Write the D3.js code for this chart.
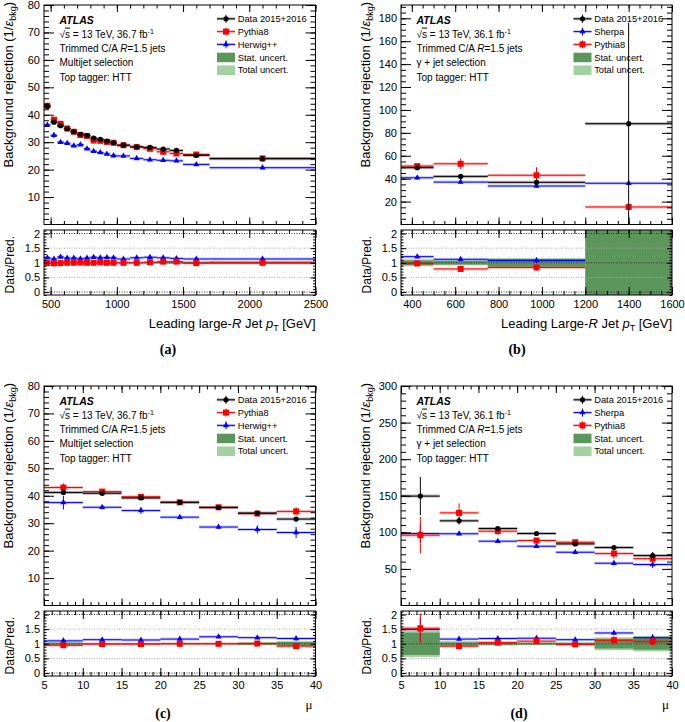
<!DOCTYPE html>
<html><head><meta charset="utf-8">
<script src="https://cdn.jsdelivr.net/npm/d3@7"></script>
<style>
body{margin:0;background:#fff;}
svg{display:block;font-family:"Liberation Sans",Arial,Helvetica,sans-serif;}
</style></head><body>
<script>
// ---------------- Panel (a): multijet, vs leading large-R jet pT ----------------
const aEdges = [450,500,550,600,650,700,750,800,850,900,950,1000,1100,1200,1300,1400,1500,1700,2500];
const aData      = [43.1,37.3,36.0,34.9,33.8,32.9,32.4,31.5,31.0,30.4,29.8,28.9,28.3,28.1,27.5,27.0,25.2,24.0];
const aDataErr   = [1.0,0.7,0.5,0.5,0.5,0.5,0.4,0.4,0.4,0.4,0.4,0.4,0.5,0.6,0.7,0.9,0.8,1.0];
const aPythia    = [43.3,38.2,36.7,35.0,33.8,32.6,32.3,30.6,30.5,30.1,29.8,28.9,28.2,27.6,26.5,25.9,25.5,24.1];
const aPythiaErr = [0.6,0.5,0.5,0.4,0.4,0.4,0.4,0.4,0.4,0.4,0.4,0.3,0.3,0.4,0.4,0.5,0.4,0.5];
const aHerwig    = [36.3,32.5,30.0,29.6,28.7,29.1,27.6,26.7,26.2,25.7,25.1,25.0,24.1,23.6,23.4,23.2,21.9,20.7];
const aHerwigErr = [0.5,1.0,0.4,0.4,0.4,0.4,0.4,0.3,0.3,0.3,0.3,0.3,0.3,0.3,0.3,0.4,0.3,0.4];
const aRatioHerwig    = [1.17,1.13,1.20,1.16,1.16,1.14,1.16,1.19,1.17,1.18,1.17,1.13,1.17,1.19,1.17,1.15,1.13,1.13];
const aRatioHerwigErr = [0.03,0.04,0.02,0.02,0.02,0.02,0.02,0.02,0.02,0.02,0.02,0.02,0.02,0.02,0.03,0.03,0.03,0.03];
const aRatioPythia    = [0.99,0.98,0.99,1.00,1.00,1.01,1.00,1.00,1.02,1.00,1.00,1.00,1.00,1.02,1.04,1.04,0.99,1.00];
const aRatioPythiaErr = [0.02,0.02,0.02,0.02,0.02,0.02,0.02,0.02,0.02,0.02,0.02,0.02,0.02,0.02,0.03,0.03,0.03,0.03];
const aStat  = [0.015,0.012,0.012,0.012,0.012,0.012,0.012,0.012,0.012,0.012,0.012,0.012,0.015,0.018,0.022,0.028,0.03,0.035];
const aTotal = [0.025,0.02,0.02,0.02,0.02,0.02,0.02,0.02,0.02,0.02,0.02,0.02,0.024,0.028,0.032,0.04,0.045,0.05];
const aXTicks = [500,1000,1500,2000,2500];
const aYTicks = [10,20,30,40,50,60,70,80];

// ---------------- Panel (b): gamma + jet, vs leading large-R jet pT ----------------
const bEdges = [350,500,750,1200,1600];
const bData      = [49.6,42.0,36.8,88.0];
const bDataErr   = [2.0,1.5,2.0,88.0];
const bSherpa    = [40.8,37.0,33.6,36.0];
const bSherpaErr = [1.5,1.5,1.5,1.5];
const bPythia    = [51.0,53.0,43.0,15.3];
const bPythiaErr = [2.5,4.5,7.0,1.5];
const bRatioSherpa    = [1.21,1.12,1.08,null];
const bRatioSherpaErr = [0.04,0.03,0.10,null];
const bRatioPythia    = [0.98,0.79,0.84,null];
const bRatioPythiaErr = [0.04,0.06,0.10,null];
const bStat  = [0.08,0.06,0.13,5];
const bTotal = [0.12,0.09,0.16,5];
const bXTicks = [400,600,800,1000,1200,1400,1600];
const bYTicks = [20,40,60,80,100,120,140,160,180];

// ---------------- Panel (c): multijet, vs mu ----------------
const cEdges = [5,10,15,20,25,30,35,40];
const cData      = [41.2,40.9,39.2,37.6,35.7,33.7,31.5];
const cDataErr   = [0.8,0.6,0.5,0.5,0.5,0.6,0.7];
const cPythia    = [43.0,41.5,39.6,37.6,35.8,33.5,34.3];
const cPythiaErr = [1.5,0.6,0.6,0.5,0.6,0.8,1.5];
const cHerwig    = [37.5,35.8,34.6,32.2,28.6,27.7,26.6];
const cHerwigErr = [2.5,0.8,1.2,0.6,0.6,1.5,2.0];
const cRatioHerwig    = [1.10,1.14,1.13,1.16,1.24,1.21,1.18];
const cRatioHerwigErr = [0.07,0.03,0.04,0.03,0.03,0.05,0.08];
const cRatioPythia    = [0.95,0.99,0.99,1.00,1.00,1.01,0.92];
const cRatioPythiaErr = [0.04,0.02,0.02,0.02,0.02,0.03,0.05];
const cStat  = [0.03,0.01,0.01,0.01,0.01,0.03,0.06];
const cTotal = [0.06,0.02,0.02,0.02,0.02,0.05,0.09];
const cXTicks = [5,10,15,20,25,30,35,40];
const cYTicks = [10,20,30,40,50,60,70,80];

// ---------------- Panel (d): gamma + jet, vs mu ----------------
const dEdges = [5,10,15,20,25,30,35,40];
const dData      = [149.5,115.7,105.2,98.4,84.2,79.2,68.2];
const dDataErr   = [26,5,2,1.5,2,2,5];
const dSherpa    = [98.4,98.0,87.9,81.0,72.8,57.8,56.0];
const dSherpaErr = [12,2,2,2,2,3,5];
const dPythia    = [96.1,126.6,101.6,88.8,86.5,71.0,64.0];
const dPythiaErr = [25,13,5,3,3,7,7];
const dRatioSherpa    = [1.49,1.16,1.18,1.19,1.14,1.37,1.21];
const dRatioSherpaErr = [0.40,0.05,0.04,0.04,0.04,0.06,0.12];
const dRatioPythia    = [1.53,0.92,1.04,1.09,0.98,1.12,1.08];
const dRatioPythiaErr = [0.50,0.10,0.05,0.04,0.04,0.15,0.15];
const dStat  = [0.38,0.05,0.04,0.03,0.03,0.16,0.20];
const dTotal = [0.45,0.09,0.06,0.05,0.05,0.22,0.26];
const dXTicks = [5,10,15,20,25,30,35,40];
const dYTicks = [50,100,150,200,250,300];

const ratioTicks = [0,0.5,1,1.5,2];
const ratioDomain = [-0.1,2.12];

// ---------------- styles ----------------
const STAT_COLOR = '#5c965c', TOTAL_COLOR = '#a2d2a2';
const BLACK = {color:'#000', band:'rgba(0,0,0,0.3)', marker:'circle'};
const RED   = {color:'#ff0000', band:'rgba(255,0,0,0.25)', marker:'square'};
const BLUE  = {color:'#0000ff', band:'rgba(0,0,255,0.22)', marker:'triangle'};
const FONT = '"Liberation Sans",Arial,Helvetica,sans-serif';

const svg = d3.select('body').append('svg').attr('width',685).attr('height',722);
const defs = svg.append('defs');

function marker(sel, type, color, scale) {
  scale = scale || 1;
  if (type === 'circle') {
    sel.append('circle').attr('r',2.6*scale).attr('fill',color);
  } else if (type === 'square') {
    sel.append('rect').attr('x',-3*scale).attr('y',-3*scale).attr('width',6*scale).attr('height',6*scale).attr('fill',color);
  } else {
    sel.append('path').attr('d', d3.symbol(d3.symbolTriangle, 16*scale*scale)()).attr('fill',color);
  }
}

function drawSeries(g, x, y, edges, vals, errs, st, bandW) {
  const bins = vals.map((v,i)=>({v, e:errs[i], x0:edges[i], x1:edges[i+1], xc:(edges[i]+edges[i+1])/2}))
                   .filter(d => d.v !== null && d.v !== undefined);
  const s = g.append('g');
  s.selectAll(null).data(bins).join('line')
    .attr('x1',d=>x(d.x0)).attr('x2',d=>x(d.x1)).attr('y1',d=>y(d.v)).attr('y2',d=>y(d.v))
    .attr('stroke',st.band).attr('stroke-width',bandW);
  s.selectAll(null).data(bins).join('line')
    .attr('x1',d=>x(d.x0)).attr('x2',d=>x(d.x1)).attr('y1',d=>y(d.v)).attr('y2',d=>y(d.v))
    .attr('stroke',st.color).attr('stroke-width',1);
  s.selectAll(null).data(bins).join('line')
    .attr('x1',d=>x(d.xc)).attr('x2',d=>x(d.xc)).attr('y1',d=>y(d.v-d.e)).attr('y2',d=>y(d.v+d.e))
    .attr('stroke',st.color).attr('stroke-width',1);
  s.selectAll(null).data(bins).join('g')
    .attr('transform',d=>`translate(${x(d.xc)},${y(d.v)})`)
    .each(function(){ marker(d3.select(this), st.marker, st.color); });
}

function axis(g, scale, orient, pos, values, len, labels, fmt, pad) {
  const mk = {left:d3.axisLeft, right:d3.axisRight, top:d3.axisTop, bottom:d3.axisBottom}[orient];
  const ax = mk(scale).tickValues(values).tickSizeInner(-len).tickSizeOuter(0).tickPadding(pad||4)
    .tickFormat(labels ? fmt : () => '');
  const ga = g.append('g')
    .attr('transform', (orient==='left'||orient==='right') ? `translate(${pos},0)` : `translate(0,${pos})`)
    .call(ax);
  ga.attr('font-family',FONT).attr('font-size',11);
  ga.select('.domain').remove();
  ga.selectAll('line').attr('stroke','#000').attr('stroke-width',1);
  ga.selectAll('text').attr('fill','#000');
}

function minorRange(dom, step) {
  const out = [];
  const start = Math.ceil(dom[0]/step - 1e-9);
  for (let k = start; k*step <= dom[1] + 1e-9; k++) out.push(+(k*step).toFixed(6));
  return out;
}

function panel(cfg) {
  const g = svg.append('g');
  const x  = d3.scaleLinear().domain(cfg.xDomain).range([cfg.left, cfg.right]);
  const y  = d3.scaleLinear().domain(cfg.yDomain).range([cfg.mainBottom, cfg.top]);
  const yr = d3.scaleLinear().domain(ratioDomain).range([cfg.ratioBottom, cfg.ratioTop]);
  const W = cfg.right - cfg.left;

  defs.append('clipPath').attr('id','cm'+cfg.id).append('rect')
    .attr('x',cfg.left).attr('y',cfg.top).attr('width',W).attr('height',cfg.mainBottom-cfg.top);
  defs.append('clipPath').attr('id','cr'+cfg.id).append('rect')
    .attr('x',cfg.left).attr('y',cfg.ratioTop).attr('width',W).attr('height',cfg.ratioBottom-cfg.ratioTop);

  const gm = g.append('g').attr('clip-path',`url(#cm${cfg.id})`);
  const gr = g.append('g').attr('clip-path',`url(#cr${cfg.id})`);

  // ratio uncertainty bands
  const rb = cfg.edges.slice(0,-1).map((e,i)=>({x0:e, x1:cfg.edges[i+1], s:cfg.stat[i], t:cfg.total[i]}));
  gr.selectAll(null).data(rb).join('rect')
    .attr('x',d=>x(d.x0)).attr('width',d=>x(d.x1)-x(d.x0))
    .attr('y',d=>yr(1+d.t)).attr('height',d=>yr(1-d.t)-yr(1+d.t)).attr('fill',TOTAL_COLOR);
  gr.selectAll(null).data(rb).join('rect')
    .attr('x',d=>x(d.x0)).attr('width',d=>x(d.x1)-x(d.x0))
    .attr('y',d=>yr(1+d.s)).attr('height',d=>yr(1-d.s)-yr(1+d.s)).attr('fill',STAT_COLOR);
  // ratio dotted reference lines
  gr.selectAll(null).data(ratioTicks).join('line')
    .attr('x1',cfg.left).attr('x2',cfg.right).attr('y1',d=>yr(d)).attr('y2',d=>yr(d))
    .attr('stroke',d=> (d===0.5||d===1.5) ? '#aaa' : '#333')
    .attr('stroke-width',1).attr('stroke-dasharray','1,1.5');

  // main & ratio series
  cfg.series.forEach(s => drawSeries(gm, x, y, cfg.edges, s.vals, s.errs, s.style, 3));
  cfg.ratios.forEach(s => drawSeries(gr, x, yr, cfg.edges, s.vals, s.errs, s.style, 3));

  // frames
  g.append('rect').attr('x',cfg.left).attr('y',cfg.top).attr('width',W).attr('height',cfg.mainBottom-cfg.top)
    .attr('fill','none').attr('stroke','#000').attr('stroke-width',1);
  g.append('rect').attr('x',cfg.left).attr('y',cfg.ratioTop).attr('width',W).attr('height',cfg.ratioBottom-cfg.ratioTop)
    .attr('fill','none').attr('stroke','#000').attr('stroke-width',1);

  // main axes
  const yMinor = minorRange(cfg.yDomain, cfg.yMinorStep).filter(v=>v>cfg.yDomain[0]);
  axis(g, y, 'left',  cfg.left,  cfg.yTicks, 10, true, d3.format('d'), 4);
  axis(g, y, 'left',  cfg.left,  yMinor, 5, false);
  axis(g, y, 'right', cfg.right, cfg.yTicks, 10, false);
  axis(g, y, 'right', cfg.right, yMinor, 5, false);
  const xMinor = minorRange(cfg.xDomain, cfg.xMinorStep);
  axis(g, x, 'bottom', cfg.mainBottom, cfg.xTicks, 7, false);
  axis(g, x, 'bottom', cfg.mainBottom, xMinor, 3.5, false);
  axis(g, x, 'top', cfg.top, cfg.xTicks, 7, false);
  axis(g, x, 'top', cfg.top, xMinor, 3.5, false);
  // ratio axes
  const rMinor = minorRange(ratioDomain, 0.1);
  axis(g, yr, 'left',  cfg.left,  ratioTicks, 5, true, d3.format('~g'), 4);
  axis(g, yr, 'left',  cfg.left,  rMinor, 2.5, false);
  axis(g, yr, 'right', cfg.right, ratioTicks, 5, false);
  axis(g, yr, 'right', cfg.right, rMinor, 2.5, false);
  axis(g, x, 'bottom', cfg.ratioBottom, cfg.xTicks, 8, true, d3.format('d'), 5);
  axis(g, x, 'bottom', cfg.ratioBottom, xMinor, 4, false);
  axis(g, x, 'top', cfg.ratioTop, cfg.xTicks, 8, false);
  axis(g, x, 'top', cfg.ratioTop, xMinor, 4, false);

  // y titles
  const yt = g.append('text').attr('transform',`translate(${cfg.left-31},${cfg.top-3}) rotate(-90)`)
    .attr('text-anchor','end').attr('font-size',13).attr('font-family',FONT);
  yt.append('tspan').text('Background rejection (1/');
  yt.append('tspan').attr('font-style','italic').text('ε');
  yt.append('tspan').attr('font-size',9).attr('dy',3).text('bkg');
  yt.append('tspan').attr('dy',-3).text(')');
  g.append('text').attr('transform',`translate(${cfg.left-30},${cfg.ratioTop+6}) rotate(-90)`)
    .attr('text-anchor','end').attr('font-size',12).attr('font-family',FONT).text('Data/Pred.');

  // x title
  const xt = g.append('text').attr('x',cfg.right).attr('y',cfg.ratioBottom+33)
    .attr('text-anchor','end').attr('font-size',13).attr('font-family',FONT);
  if (cfg.xTitle === 'mu') {
    xt.attr('x',cfg.right-3).attr('font-family','"Liberation Serif","DejaVu Serif",serif').text('μ');
  } else {
    xt.append('tspan').text(cfg.xTitle);
    xt.append('tspan').attr('font-style','italic').text('R');
    xt.append('tspan').text(' Jet ');
    xt.append('tspan').attr('font-style','italic').text('p');
    xt.append('tspan').attr('font-size',9).attr('dy',3).text('T');
    xt.append('tspan').attr('dy',-3).text(' [GeV]');
  }

  // caption
  g.append('text').attr('x',cfg.capX).attr('y',cfg.capY).attr('text-anchor','middle')
    .attr('font-family','"Liberation Serif","DejaVu Serif",serif').attr('font-weight','bold').attr('font-size',14)
    .text(cfg.caption);

  // ATLAS label block
  const lx = cfg.left + 15.5;
  const base = [23.8, 37.6, 52, 66, 80.5].map(v => v + cfg.top - 5);
  g.append('text').attr('x',lx).attr('y',base[0]).attr('font-family',FONT).attr('font-size',10.5)
    .attr('font-weight','bold').attr('font-style','italic').text('ATLAS');
  const t1 = g.append('text').attr('x',lx).attr('y',base[1]).attr('font-family',FONT).attr('font-size',10);
  t1.append('tspan').text('√');
  t1.append('tspan').attr('text-decoration','overline').style('text-decoration','overline').text('s');
  t1.append('tspan').text(` = 13 TeV, ${cfg.lumi} fb`);
  t1.append('tspan').attr('font-size',7).attr('dy',-4).text('-1');
  const t2 = g.append('text').attr('x',lx).attr('y',base[2]).attr('font-family',FONT).attr('font-size',10);
  t2.append('tspan').text('Trimmed C/A ');
  t2.append('tspan').attr('font-style','italic').text('R');
  t2.append('tspan').text('=1.5 jets');
  g.append('text').attr('x',lx).attr('y',base[3]).attr('font-family',FONT).attr('font-size',10).text(cfg.selection);
  g.append('text').attr('x',lx).attr('y',base[4]).attr('font-family',FONT).attr('font-size',10).text('Top tagger: HTT');

  // legend
  const lg = g.append('g');
  const lx0 = cfg.right - 98.5, lx1 = cfg.right - 80.5, lxm = cfg.right - 89.5, ltx = cfg.right - 77.8;
  cfg.legend.forEach((it, i) => {
    const cy = cfg.top - 5 + 18.8 + i*12.8;
    if (it.box) {
      lg.append('rect').attr('x',lx0).attr('y',cy-4.5).attr('width',18).attr('height',9.5).attr('fill',it.box);
    } else {
      lg.append('line').attr('x1',lx0).attr('x2',lx1).attr('y1',cy).attr('y2',cy).attr('stroke',it.style.band).attr('stroke-width',3);
      lg.append('line').attr('x1',lx0).attr('x2',lx1).attr('y1',cy).attr('y2',cy).attr('stroke',it.style.color).attr('stroke-width',1);
      lg.append('line').attr('x1',lxm).attr('x2',lxm).attr('y1',cy-4).attr('y2',cy+4).attr('stroke',it.style.color).attr('stroke-width',1);
      const mg = lg.append('g').attr('transform',`translate(${lxm},${cy})`);
      marker(mg, it.style.marker, it.style.color);
    }
    lg.append('text').attr('x',ltx).attr('y',cy+3.4).attr('font-family',FONT).attr('font-size',9.3).text(it.label);
  });
}

const boxes = [{label:'Stat. uncert.', box:STAT_COLOR},{label:'Total uncert.', box:TOTAL_COLOR}];

panel({
  id:'a', left:44, right:315.5, top:5, mainBottom:224.5, ratioTop:230, ratioBottom:295,
  xDomain:[450,2500], yDomain:[0,80], xTicks:aXTicks, yTicks:aYTicks, xMinorStep:100, yMinorStep:2,
  edges:aEdges,
  series:[{vals:aHerwig,errs:aHerwigErr,style:BLUE},{vals:aPythia,errs:aPythiaErr,style:RED},{vals:aData,errs:aDataErr,style:BLACK}],
  ratios:[{vals:aRatioHerwig,errs:aRatioHerwigErr,style:BLUE},{vals:aRatioPythia,errs:aRatioPythiaErr,style:RED}],
  stat:aStat, total:aTotal, xTitle:'Leading large-', caption:'(a)', capX:168, capY:354,
  lumi:'36.7', selection:'Multijet selection',
  legend:[{label:'Data 2015+2016',style:BLACK},{label:'Pythia8',style:RED},{label:'Herwig++',style:BLUE}].concat(boxes)
});

panel({
  id:'b', left:401, right:672, top:5, mainBottom:224.5, ratioTop:230, ratioBottom:295,
  xDomain:[350,1600], yDomain:[0,191.6], xTicks:bXTicks, yTicks:bYTicks, xMinorStep:50, yMinorStep:5,
  edges:bEdges,
  series:[{vals:bSherpa,errs:bSherpaErr,style:BLUE},{vals:bPythia,errs:bPythiaErr,style:RED},{vals:bData,errs:bDataErr,style:BLACK}],
  ratios:[{vals:bRatioSherpa,errs:bRatioSherpaErr,style:BLUE},{vals:bRatioPythia,errs:bRatioPythiaErr,style:RED}],
  stat:bStat, total:bTotal, xTitle:'Leading Large-', caption:'(b)', capX:517, capY:354,
  lumi:'36.1', selection:'γ + jet selection',
  legend:[{label:'Data 2015+2016',style:BLACK},{label:'Sherpa',style:BLUE},{label:'Pythia8',style:RED}].concat(boxes)
});

panel({
  id:'c', left:44, right:315.5, top:386, mainBottom:605.5, ratioTop:611, ratioBottom:676,
  xDomain:[5,40], yDomain:[0,80], xTicks:cXTicks, yTicks:cYTicks, xMinorStep:1, yMinorStep:2,
  edges:cEdges,
  series:[{vals:cHerwig,errs:cHerwigErr,style:BLUE},{vals:cPythia,errs:cPythiaErr,style:RED},{vals:cData,errs:cDataErr,style:BLACK}],
  ratios:[{vals:cRatioHerwig,errs:cRatioHerwigErr,style:BLUE},{vals:cRatioPythia,errs:cRatioPythiaErr,style:RED}],
  stat:cStat, total:cTotal, xTitle:'mu', caption:'(c)', capX:163, capY:718,
  lumi:'36.7', selection:'Multijet selection',
  legend:[{label:'Data 2015+2016',style:BLACK},{label:'Pythia8',style:RED},{label:'Herwig++',style:BLUE}].concat(boxes)
});

panel({
  id:'d', left:401, right:672, top:386, mainBottom:605.5, ratioTop:611, ratioBottom:676,
  xDomain:[5,40], yDomain:[0,300], xTicks:dXTicks, yTicks:dYTicks, xMinorStep:1, yMinorStep:10,
  edges:dEdges,
  series:[{vals:dSherpa,errs:dSherpaErr,style:BLUE},{vals:dPythia,errs:dPythiaErr,style:RED},{vals:dData,errs:dDataErr,style:BLACK}],
  ratios:[{vals:dRatioSherpa,errs:dRatioSherpaErr,style:BLUE},{vals:dRatioPythia,errs:dRatioPythiaErr,style:RED}],
  stat:dStat, total:dTotal, xTitle:'mu', caption:'(d)', capX:519, capY:718,
  lumi:'36.1', selection:'γ + jet selection',
  legend:[{label:'Data 2015+2016',style:BLACK},{label:'Sherpa',style:BLUE},{label:'Pythia8',style:RED}].concat(boxes)
});
</script>
</body></html>
